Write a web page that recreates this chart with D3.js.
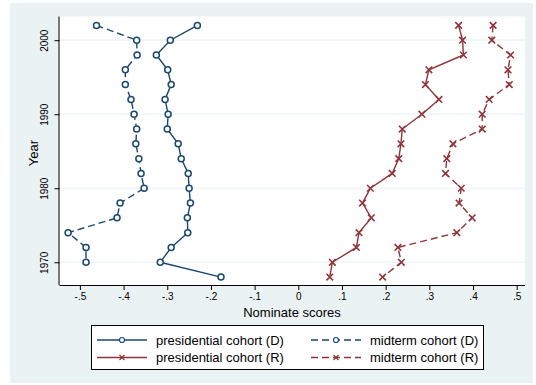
<!DOCTYPE html>
<html><head><meta charset="utf-8">
<script src="https://cdn.jsdelivr.net/npm/d3@7"></script>
<style>body{margin:0;background:#fff}svg{display:block;font-family:"Liberation Sans",Arial,sans-serif}</style>
</head><body><svg id="c" width="536" height="385"></svg>
<script>
const years = [2002,2000,1998,1996,1994,1992,1990,1988,1986,1984,1982,1980,1978,1976,1974,1972,1970,1968];
const presD = [-0.231,-0.293,-0.325,-0.299,-0.291,-0.305,-0.298,-0.300,-0.275,-0.268,-0.252,-0.250,-0.247,-0.254,-0.253,-0.291,-0.316,-0.177];
const midD  = [-0.462,-0.370,-0.369,-0.396,-0.396,-0.383,-0.376,-0.370,-0.372,-0.365,-0.360,-0.353,-0.408,-0.415,-0.527,-0.486,-0.486,null];
const presR = [0.367,0.376,0.378,0.299,0.291,0.322,0.283,0.238,0.235,0.230,0.215,0.165,0.147,0.167,0.139,0.133,0.078,0.072];
const midR  = [0.446,0.443,0.486,0.480,0.483,0.437,0.421,0.421,0.354,0.340,0.337,0.373,0.368,0.398,0.363,0.228,0.236,0.193];
const xTicks = [-0.5,-0.4,-0.3,-0.2,-0.1,0,0.1,0.2,0.3,0.4,0.5];
const xTickLabels = ["-.5","-.4","-.3","-.2","-.1","0",".1",".2",".3",".4",".5"];
const yTicks = [1970,1980,1990,2000];
const seriesNames = ["presidential cohort (D)","midterm cohort (D)","presidential cohort (R)","midterm cohort (R)"];

const BLUE = "#1a476f", RED = "#90353b", BG = "#eaf2f3";
const svg = d3.select("#c");
svg.append("rect").attr("x",10).attr("y",3).attr("width",523).attr("height",380).attr("fill",BG);

const L = 59.5, R = 525, T = 16.5, B = 285;
svg.append("rect").attr("x",L).attr("y",T).attr("width",R-L).attr("height",B-T).attr("fill","#fff");

const x = d3.scaleLinear().domain([-0.5467,0.519]).range([L,R]);
const y = d3.scaleLinear().domain([1966.93,2003.2]).range([B,T]);

// gridlines
svg.append("g").selectAll("line").data(yTicks).join("line")
  .attr("x1",L).attr("x2",R).attr("y1",d=>y(d)).attr("y2",d=>y(d))
  .attr("stroke",BG).attr("stroke-width",1.2);

// axes
const xAxis = d3.axisBottom(x).tickValues(xTicks).tickFormat((d,i)=>xTickLabels[i]).tickSize(5).tickPadding(3);
const gx = svg.append("g").attr("transform",`translate(0,${B})`).call(xAxis);
gx.select(".domain").attr("d",`M${L},0.5H${R}`).attr("stroke","#000");
gx.selectAll("text").attr("font-size",10).attr("font-family","Liberation Sans, Arial, sans-serif").attr("fill","#000");

const yAxis = d3.axisLeft(y).tickValues(yTicks).tickFormat(d3.format("d")).tickSize(5).tickPadding(3);
const gy = svg.append("g").attr("transform",`translate(${L},0)`).call(yAxis);
gy.select(".domain").attr("d",`M-0.5,${T}V${B}`).attr("stroke","#000");
gy.selectAll("text").attr("font-size",10).attr("font-family","Liberation Sans, Arial, sans-serif").attr("fill","#000")
  .attr("text-anchor","middle").attr("transform","translate(-15,0) rotate(-90)")
  .attr("x",0).attr("y",0).attr("dy","0.35em");

svg.append("text").attr("x",292).attr("y",317).attr("text-anchor","middle").attr("font-size",13).text("Nominate scores");
svg.append("text").attr("transform","translate(38,153) rotate(-90)").attr("text-anchor","middle").attr("font-size",13).text("Year");

const series = [
  {vals:presD,color:BLUE,dash:null,mark:"o"},
  {vals:midD,color:BLUE,dash:"7,4",mark:"o"},
  {vals:presR,color:RED,dash:null,mark:"x"},
  {vals:midR,color:RED,dash:"7,4",mark:"x"}
];
const line = d3.line().defined(d=>d.v!=null).x(d=>x(d.v)).y(d=>y(d.yr));
function drawMarker(g,type,color,cx,cy){
  if(type==="o"){
    g.append("circle").attr("cx",cx).attr("cy",cy).attr("r",3).attr("fill","#fff").attr("stroke",color).attr("stroke-width",1.5);
  } else {
    const s=3.3;
    g.append("path").attr("d",`M${cx-s},${cy-s}L${cx+s},${cy+s}M${cx-s},${cy+s}L${cx+s},${cy-s}`)
      .attr("stroke",color).attr("stroke-width",1.6).attr("fill","none");
  }
}
series.forEach(s=>{
  const data = years.map((yr,i)=>({yr,v:s.vals[i]}));
  svg.append("path").datum(data).attr("d",line).attr("fill","none").attr("stroke",s.color)
    .attr("stroke-width",1.4).attr("stroke-dasharray",s.dash);
  const g = svg.append("g");
  data.filter(d=>d.v!=null).forEach(d=>drawMarker(g,s.mark,s.color,x(d.v),y(d.yr)));
});

// legend
const lg = svg.append("g");
lg.append("rect").attr("x",91.5).attr("y",325.5).attr("width",392).attr("height",44).attr("fill","#fff").attr("stroke","#000").attr("stroke-width",1);
const legPos = [[97,340],[311,340],[97,357.5],[311,357.5]];
series.forEach((s,i)=>{
  const [lx,ly] = legPos[i];
  lg.append("line").attr("x1",lx).attr("x2",lx+50).attr("y1",ly).attr("y2",ly)
    .attr("stroke",s.color).attr("stroke-width",1.4).attr("stroke-dasharray",s.dash);
  if(s.mark==="o"){
    lg.append("circle").attr("cx",lx+25).attr("cy",ly).attr("r",2.5).attr("fill","#fff").attr("stroke",s.color).attr("stroke-width",1.2);
  } else {
    const sz=2.5;
    lg.append("path").attr("d",`M${lx+25-sz},${ly-sz}L${lx+25+sz},${ly+sz}M${lx+25-sz},${ly+sz}L${lx+25+sz},${ly-sz}`).attr("stroke",s.color).attr("stroke-width",1.2);
  }
  lg.append("text").attr("x",lx+59).attr("y",ly).attr("dy","0.35em").attr("font-size",13).text(seriesNames[i]);
});
</script></body></html>
